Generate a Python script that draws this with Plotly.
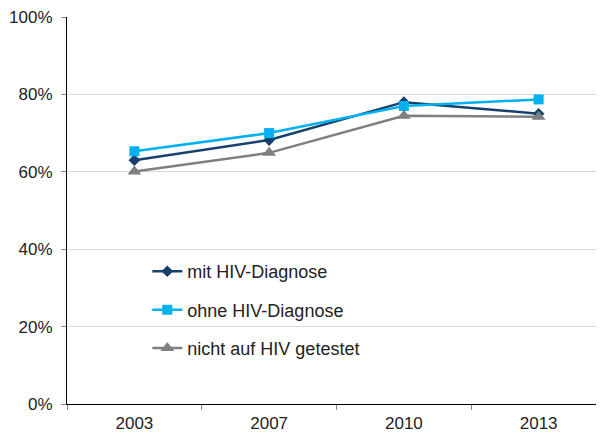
import plotly.graph_objects as go

years = ['2003', '2007', '2010', '2013']
mit_diagnose = [0.630, 0.682, 0.780, 0.750]
ohne_diagnose = [0.653, 0.700, 0.770, 0.787]
nicht_getestet = [0.601, 0.649, 0.745, 0.742]

series = [
    ('mit HIV-Diagnose', mit_diagnose, '#17406D', 'diamond', 9),
    ('ohne HIV-Diagnose', ohne_diagnose, '#00B0F0', 'square', 10),
    ('nicht auf HIV getestet', nicht_getestet, '#7F7F7F', 'triangle-up', 12),
]

fig = go.Figure()
for i, (name, vals, color, symbol, size) in enumerate(series):
    fig.add_trace(go.Scatter(
        x=years, y=vals, name=name, mode='lines+markers',
        line=dict(color=color, width=2.5),
        marker=dict(symbol=symbol, size=size, color=color),
        legendgroup=str(i),
    ))

# page body has an 8px default margin, so the figure is shifted to fit
fig.update_layout(
    width=598, height=428,
    margin=dict(l=59, r=0, t=9, b=32),
    paper_bgcolor='white', plot_bgcolor='white',
    font=dict(family='Liberation Sans, Arial, sans-serif', size=17, color='#222222'),
    legend=dict(x=0.149, y=0.39, xanchor='left', yanchor='top',
                bgcolor='rgba(0,0,0,0)', tracegroupgap=12,
                font=dict(size=18)),
)
fig.update_xaxes(
    type='category', range=[-0.5, 3.5],
    showline=True, linecolor='black', linewidth=1,
    ticks='outside', tickson='boundaries', ticklen=5, tickcolor='#888888',
    ticklabelstandoff=4,
    showgrid=False,
)
fig.update_yaxes(
    range=[0, 1], dtick=0.2, tickformat='.0%',
    showline=True, linecolor='black', linewidth=1,
    ticks='outside', ticklen=5, tickcolor='#888888',
    ticklabelstandoff=5, ticklabeloverflow='allow',
    showgrid=True, gridcolor='#D9D9D9', gridwidth=1,
    zeroline=False,
)

fig.write_html('out.html')
